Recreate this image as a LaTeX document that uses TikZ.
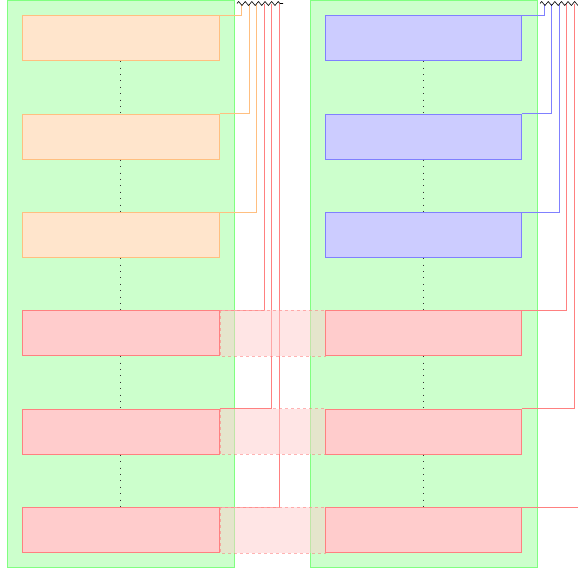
\documentclass[tikz,border=0pt]{standalone}
\usetikzlibrary{decorations.pathmorphing}
\begin{document}
\begin{tikzpicture}[x=1pt,y=-1pt,
  panel/.style={draw=green!50,fill=green!20,line width=0.8pt},
  obox/.style={draw=orange!50,fill=orange!20,line width=0.8pt},
  bbox/.style={draw=blue!50,fill=blue!20,line width=0.8pt},
  rbox/.style={draw=red!50,fill=red!20,line width=0.8pt},
  bridge/.style={draw=red!50,dashed,fill=red!20,fill opacity=0.5,draw opacity=0.6,line width=0.6pt},
  vdots/.style={dash pattern=on 0.9pt off 5.5pt,dash phase=6pt,line width=0.9pt,black!80},
  oline/.style={orange!50,line width=0.7pt},
  bline/.style={blue!50,line width=0.7pt},
  rline/.style={red!50,line width=0.7pt},
  zz/.style={decorate,decoration={zigzag,segment length=6.6pt,amplitude=2pt},line width=0.6pt}]
\useasboundingbox (0,0) rectangle (578,571);
\clip (0,0) rectangle (578,571);
% panels
\path[panel] (7,0) rectangle (234,567);
\path[panel] (310,0) rectangle (537,567);
% left boxes
\foreach \i/\y/\s in {1/15/obox,2/113.5/obox,3/212/obox,4/310/rbox,5/408.5/rbox,6/507/rbox}{
  \node[\s,minimum width=197pt,minimum height=45pt,inner sep=0pt,anchor=north west] (L\i) at (22,\y) {};
}
\foreach \i/\y/\s in {1/15/bbox,2/113.5/bbox,3/212/bbox,4/310/rbox,5/408.5/rbox,6/507/rbox}{
  \node[\s,minimum width=196pt,minimum height=45pt,inner sep=0pt,anchor=north west] (R\i) at (325,\y) {};
}
% dotted links
\foreach \a/\b in {1/2,2/3,3/4,4/5,5/6}{
  \draw[vdots] (L\a.south) -- (L\b.north);
  \draw[vdots] (R\a.south) -- (R\b.north);
}
% top coordinates
\foreach \i/\x in {1/241.7,2/249.3,3/256.8,4/264.3,5/271.8,6/279.3}{
  \coordinate (cL\i) at (\x,4);
}
\foreach \i/\x in {1/544,2/551.5,3/559,4/566.5,5/574,6/581.5}{
  \coordinate (cR\i) at (\x,4);
}
\foreach \i in {1,2,3}{
  \draw[oline] (L\i.north east) -| (cL\i);
  \draw[bline] (R\i.north east) -| (cR\i);
}
\foreach \i in {4,5,6}{
  \draw[rline] (L\i.north east) -| (cL\i);
  \draw[rline] (R\i.north east) -| (cR\i);
}
% bridges
\foreach \i in {4,5,6}{
  \path[bridge] (L\i.north east) rectangle (R\i.south west);
}
% zigzags
\coordinate (zL1) at (237,3.5);
\coordinate (zL2) at (283,3.5);
\coordinate (zR1) at (540,3.5);
\coordinate (zR2) at (586,3.5);
\draw[zz] (zL1) -- (zL2);
\draw[zz] (zR1) -- (zR2);
\end{tikzpicture}
\end{document}
